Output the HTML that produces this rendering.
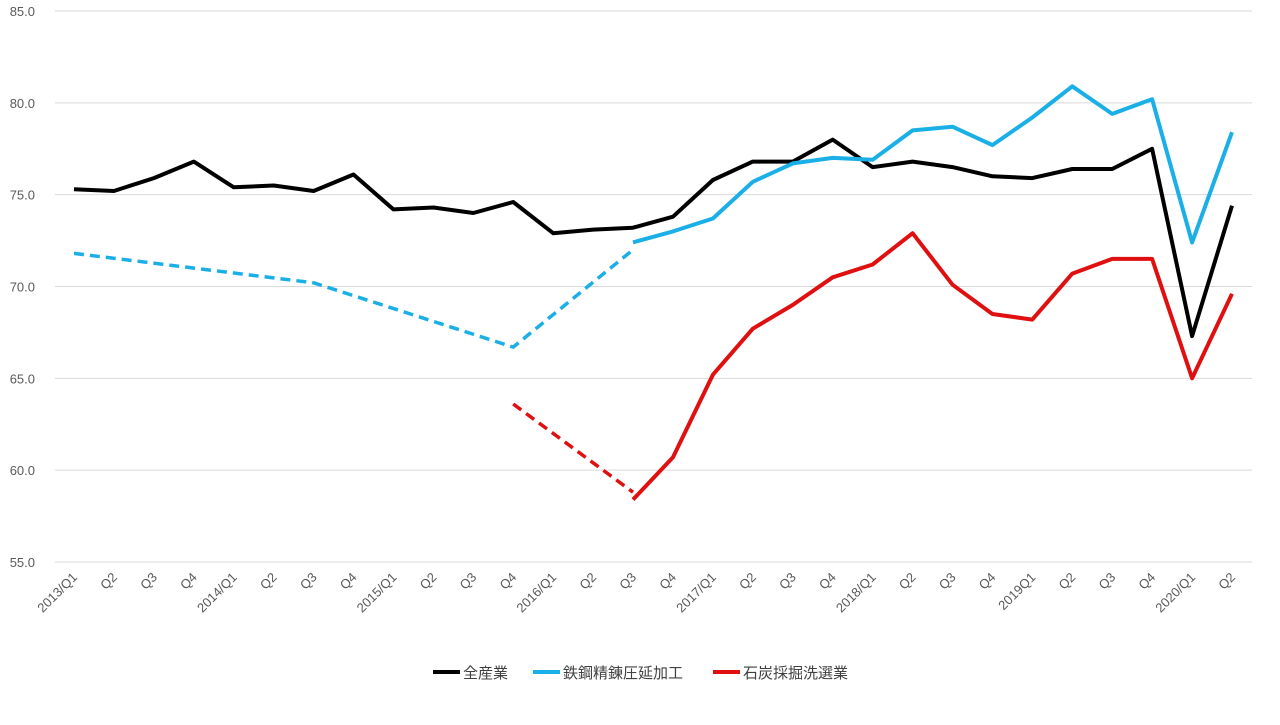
<!DOCTYPE html>
<html><head><meta charset="utf-8"><style>
body{margin:0;background:#fff;width:1280px;height:720px;overflow:hidden;font-family:"Liberation Sans","Noto Sans CJK JP",sans-serif}
</style></head><body>
<svg id="chart" width="1280" height="720" xmlns="http://www.w3.org/2000/svg"></svg>
<script>
const categories=["2013/Q1","Q2","Q3","Q4","2014/Q1","Q2","Q3","Q4","2015/Q1","Q2","Q3","Q4","2016/Q1","Q2","Q3","Q4","2017/Q1","Q2","Q3","Q4","2018/Q1","Q2","Q3","Q4","2019Q1","Q2","Q3","Q4","2020/Q1","Q2"];
const yTicks=[55,60,65,70,75,80,85];
const allIndustry=[75.3,75.2,75.9,76.8,75.4,75.5,75.2,76.1,74.2,74.3,74.0,74.6,72.9,73.1,73.2,73.8,75.8,76.8,76.8,78.0,76.5,76.8,76.5,76.0,75.9,76.4,76.4,77.5,67.3,74.4];
const steel=[null,null,null,null,null,null,null,null,null,null,null,null,null,null,72.4,73.0,73.7,75.7,76.7,77.0,76.9,78.5,78.7,77.7,79.2,80.9,79.4,80.2,72.4,78.4];
const steelDashed=[71.8,null,null,null,null,null,70.2,null,null,null,null,66.7,null,null,72.0];
const coal=[null,null,null,null,null,null,null,null,null,null,null,null,null,null,58.4,60.7,65.2,67.7,69.0,70.5,71.2,72.9,70.1,68.5,68.2,70.7,71.5,71.5,65.0,69.6];
const coalDashed=[null,null,null,null,null,null,null,null,null,null,null,63.6,null,null,58.8];
const svg=document.getElementById('chart');
const NS='http://www.w3.org/2000/svg';
const x0=74,x1=1232,yTop=11,yBot=562,plotL=55,plotR=1252;
const xs=i=>x0+i*(x1-x0)/(categories.length-1);
const ys=v=>yBot-(v-55)/(85-55)*(yBot-yTop);
function mk(t,a){const e=document.createElementNS(NS,t);for(const k in a)e.setAttribute(k,a[k]);svg.appendChild(e);return e;}
yTicks.forEach(v=>{
 const g=mk('line',{x1:plotL,x2:plotR,y1:ys(v),y2:ys(v),stroke:'#d9d9d9','stroke-width':1});
 
 
 const t=mk('text',{x:35,y:ys(v)+5,'text-anchor':'end','font-size':13,fill:'#595959'});
 t.textContent=v.toFixed(1);
 
 
});
categories.forEach((c,i)=>{
 const t=mk('text',{x:xs(i)+4,y:578,'text-anchor':'end','font-size':13,fill:'#595959',transform:`rotate(-45 ${xs(i)+4} 578)`});
 t.textContent=c;
 
 
});
function series(arr,color,dash,name){
 const pts=[];arr.forEach((v,i)=>{if(v!==null)pts.push(xs(i).toFixed(1)+','+ys(v).toFixed(1));});
 const p=mk('polyline',{points:pts.join(' '),fill:'none',stroke:color,'stroke-width':dash?3.5:4,'stroke-linejoin':'round','stroke-dasharray':dash?'10,6':'none'});
 
 
}
series(steelDashed,'#1aafe6',true,'steel-dashed-line');
series(coalDashed,'#e01010',true,'coal-dashed-line');
series(allIndustry,'#000000',false,'all-industry-line');
series(steel,'#1aafe6',false,'steel-line');
series(coal,'#e01010',false,'coal-line');
const legend=[['全産業','#000',433],['鉄鋼精錬圧延加工','#1aafe6',533],['石炭採掘洗選業','#e01010',713]];
legend.forEach(([n,c,x])=>{
 const l=mk('line',{x1:x,x2:x+27,y1:672,y2:672,stroke:c,'stroke-width':4});
 
 
 const t=mk('text',{x:x+30,y:678,'font-size':15,fill:'#404040'});
 t.textContent=n;
 
 
});
</script>
</body></html>
